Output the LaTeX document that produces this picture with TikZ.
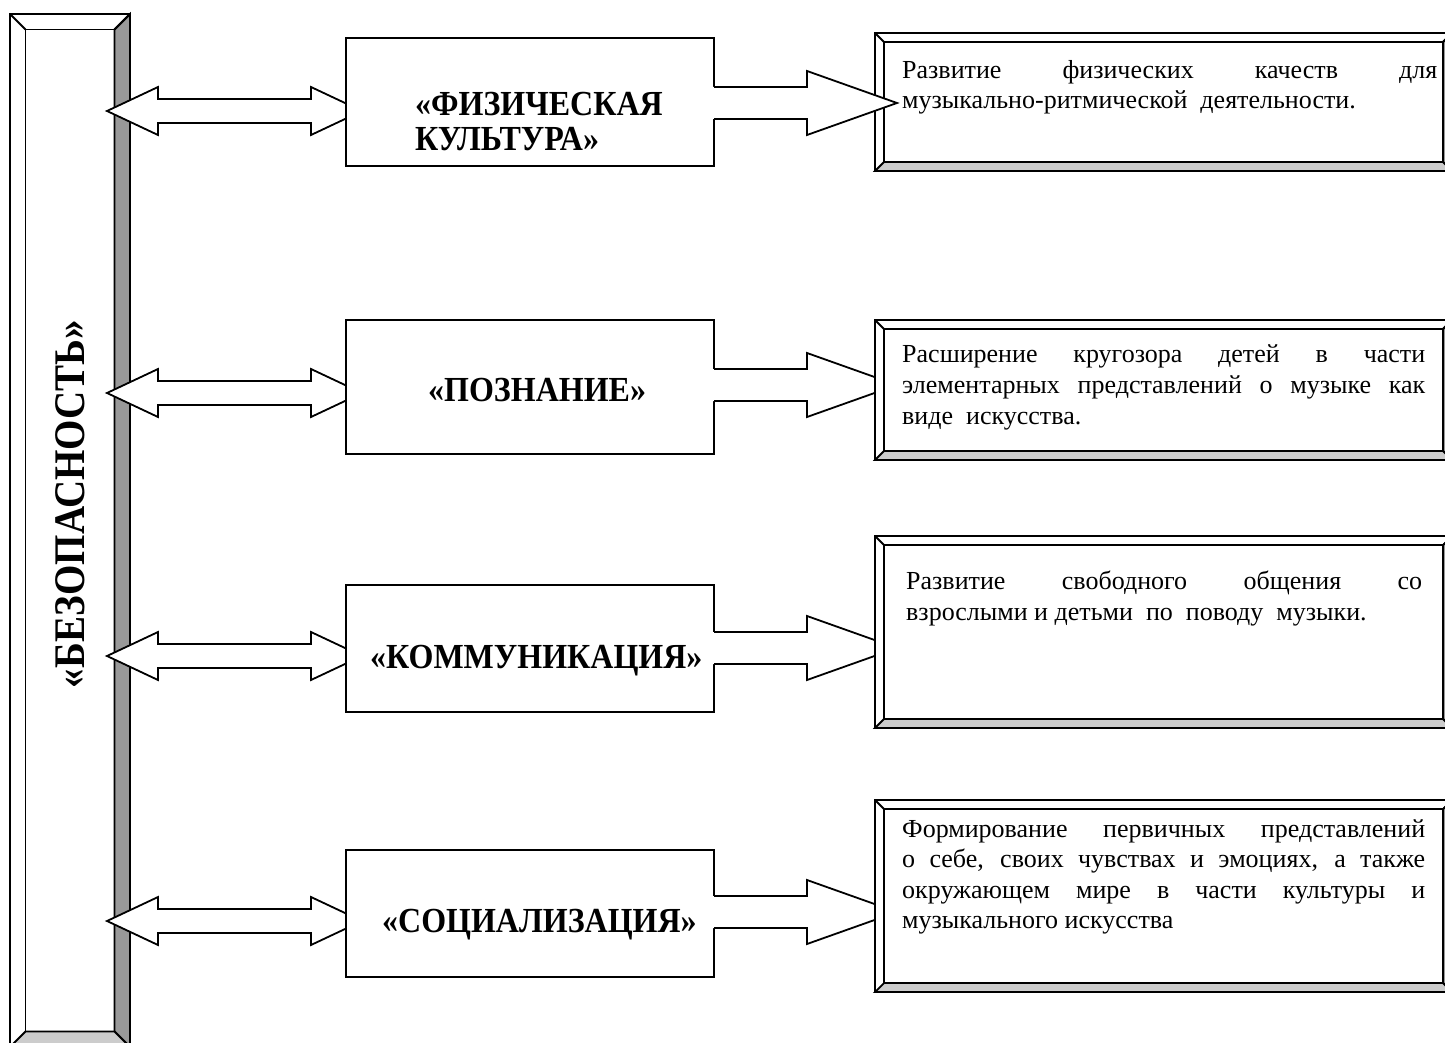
\documentclass[tikz,border=0pt]{standalone}
\usepackage{fontspec}
\setmainfont{Liberation Serif}
\definecolor{bevdark}{HTML}{999999}
\definecolor{bevlight}{HTML}{CCCCCC}
\tikzset{
 ln/.style={line width=1.8pt, line join=miter},
 midbox/.style={ln, draw, fill=white, rectangle, inner sep=0pt},
 midtxt/.style={font=\fontsize{32}{36}\selectfont\bfseries, inner sep=0pt, anchor=base west},
 rtxt/.style={font=\fontsize{26}{31}\selectfont, inner sep=0pt, anchor=base west},
 vtxt/.style={font=\fontsize{39}{42}\selectfont\bfseries, inner sep=0pt, rotate=90},
}
\newcommand\tallb[1]{\scalebox{1}[1.1]{#1}}
% bevel box: x1 y1 x2 y2 inset (y downward)
\newcommand\bevbox[5]{%
 \fill[white] (#1,#2) rectangle (#3,#4);
 \filldraw[ln,fill=bevdark] (#3,#2) -- (#3,#4) -- ({#3-#5},{#4-#5}) -- ({#3-#5},{#2+#5}) -- cycle;
 \filldraw[ln,fill=bevlight] (#1,#4) -- (#3,#4) -- ({#3-#5},{#4-#5}) -- ({#1+#5},{#4-#5}) -- cycle;
 \draw[ln] (#1,#2) rectangle (#3,#4);
 \draw[ln] ({#1+#5},{#2+#5}) rectangle ({#3-#5},{#4-#5});
 \draw[ln] (#1,#2) -- ({#1+#5},{#2+#5}) (#3,#2) -- ({#3-#5},{#2+#5});
}
\newcommand\dblarrow[1]{%
 \filldraw[ln,fill=white] (107,#1) -- (158,{#1-24}) -- (158,{#1-12}) -- (311,{#1-12}) -- (311,{#1-24}) -- (362,#1)
   -- (311,{#1+24}) -- (311,{#1+12}) -- (158,{#1+12}) -- (158,{#1+24}) -- cycle;
}
\newcommand\rarrow[1]{%
 \fill[white] (711,{#1-16}) -- (807,{#1-16}) -- (807,{#1-32}) -- (897,#1) -- (807,{#1+32}) -- (807,{#1+16}) -- (711,{#1+16}) -- cycle;
 \draw[ln] (714,{#1-16}) -- (807,{#1-16}) -- (807,{#1-32}) -- (897,#1) -- (807,{#1+32}) -- (807,{#1+16}) -- (714,{#1+16});
}
\begin{document}
\begin{tikzpicture}[x=1pt,y=-1pt]
\useasboundingbox (0,0) rectangle (1445,1043);
\clip (0,0) rectangle (1445,1043);
\fill[white] (0,0) rectangle (1445,1043);
% left bevel box
\bevbox{10}{14}{130}{1047}{15.5}
% right box 1 (under its arrow)
\bevbox{875}{33}{1452}{171}{9}
% double arrows
\dblarrow{111}
\dblarrow{393}
\dblarrow{656}
\dblarrow{921}
% middle boxes
\node[midbox, minimum width=368pt, minimum height=128pt] (bA) at (530,102) {};
\node[midbox, minimum width=368pt, minimum height=134pt] (bB) at (530,387) {};
\node[midbox, minimum width=368pt, minimum height=127pt] (bC) at (530,648.5) {};
\node[midbox, minimum width=368pt, minimum height=127pt] (bD) at (530,913.5) {};
% right arrows
\rarrow{103}
\rarrow{385}
\rarrow{648}
\rarrow{912}
% right boxes 2-4 (over their arrows)
\bevbox{875}{320}{1452}{460}{9}
\bevbox{875}{536}{1452}{728}{9}
\bevbox{875}{800}{1452}{992}{9}
% texts
\node[vtxt] (tL) at (70,504) {\scalebox{1}[1.12]{«БЕЗОПАСНОСТЬ»}};
\node[midtxt] (tA1) at (415,116) {\tallb{«ФИЗИЧЕСКАЯ}};
\node[midtxt] (tA2) at (415,151) {\tallb{КУЛЬТУРА»}};
\node[midtxt] (tB) at (428,401) {\tallb{«ПОЗНАНИЕ»}};
\node[midtxt] (tC) at (370,668) {\tallb{«КОММУНИКАЦИЯ»}};
\node[midtxt] (tD) at (382,932) {\tallb{«СОЦИАЛИЗАЦИЯ»}};
\node[rtxt] (r1a) at (902,79) {\makebox[535pt][s]{Развитие физических качеств для}};
\node[rtxt] (r1b) at (902,109) {музыкально-ритмической\ \ деятельности.};
\node[rtxt] (r2a) at (902,362) {\makebox[523pt][s]{Расширение кругозора детей в части}};
\node[rtxt] (r2b) at (902,393) {\makebox[523pt][s]{элементарных представлений о музыке как}};
\node[rtxt] (r2c) at (902,424) {виде\ \ искусства.};
\node[rtxt] (r3a) at (906,589) {\makebox[516pt][s]{Развитие свободного общения со}};
\node[rtxt] (r3b) at (906,620) {взрослыми и детьми\ \ по\ \ поводу\ \ музыки.};
\node[rtxt] (r4a) at (902,837) {\makebox[523pt][s]{Формирование первичных представлений}};
\node[rtxt] (r4b) at (902,867) {\makebox[523pt][s]{о себе, своих чувствах и эмоциях, а также}};
\node[rtxt] (r4c) at (902,898) {\makebox[523pt][s]{окружающем мире в части культуры и}};
\node[rtxt] (r4d) at (902,928) {музыкального искусства};
\end{tikzpicture}
\end{document}
